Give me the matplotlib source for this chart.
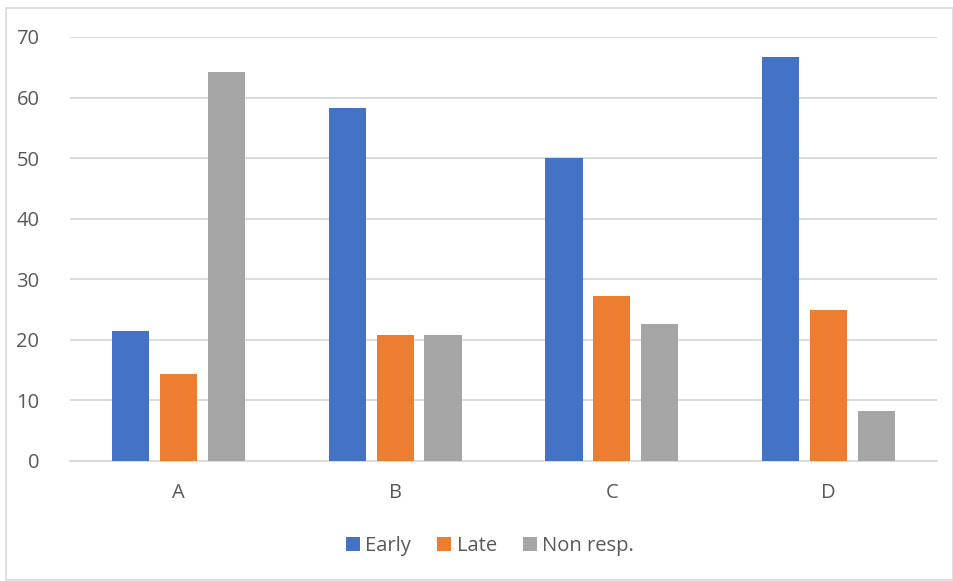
import numpy as np
import matplotlib.pyplot as plt
from matplotlib.patches import Rectangle

categories = ["A", "B", "C", "D"]
series = ["Early", "Late", "Non resp."]
early = [21.4, 58.3, 50.0, 66.7]
late = [14.3, 20.8, 27.3, 25.0]
non_resp = [64.3, 20.8, 22.7, 8.3]
values = [early, late, non_resp]
colors = ["#4472C4", "#ED7D31", "#A5A5A5"]

plt.rcParams['font.family'] = ['Open Sans', 'DejaVu Sans']

fig = plt.figure(figsize=(9.54, 5.81), dpi=100)
ax = fig.add_axes([70 / 954, 1 - 461 / 581, 867 / 954, 424 / 581])

x = np.arange(len(categories))
w = 0.171
step = 0.221
for i, (name, vals, c) in enumerate(zip(series, values, colors)):
    ax.bar(x + (i - 1) * step, vals, width=w, color=c, label=name, zorder=3)

ax.set_xlim(-0.5, len(categories) - 0.5)
ax.set_ylim(0, 70)
ax.set_yticks(range(0, 71, 10))
ax.set_xticks(x)
ax.set_xticklabels(categories)
ax.grid(axis='y', color='#D9D9D9', linewidth=1.3, zorder=0)
for s in ['top', 'right', 'left']:
    ax.spines[s].set_visible(False)
ax.spines['bottom'].set_color('#D9D9D9')
ax.spines['bottom'].set_linewidth(1.3)
ax.tick_params(axis='both', length=0, labelsize=14.5, labelcolor='#595959')
ax.tick_params(axis='y', pad=22)
ax.tick_params(axis='x', pad=16)

leg = fig.legend(loc='center', bbox_to_anchor=(490 / 954, 1 - 546 / 581), ncol=3,
                 frameon=False, fontsize=14.5, handlelength=0.7, handleheight=0.7,
                 handletextpad=0.25, columnspacing=1.3)
for t in leg.get_texts():
    t.set_color('#595959')

fig.patches.append(Rectangle((6 / 954, 1 / 581), 947 / 954, 572 / 581, transform=fig.transFigure,
                             fill=False, edgecolor='#D9D9D9', linewidth=1.2))

fig.savefig('out.png', dpi=100)
